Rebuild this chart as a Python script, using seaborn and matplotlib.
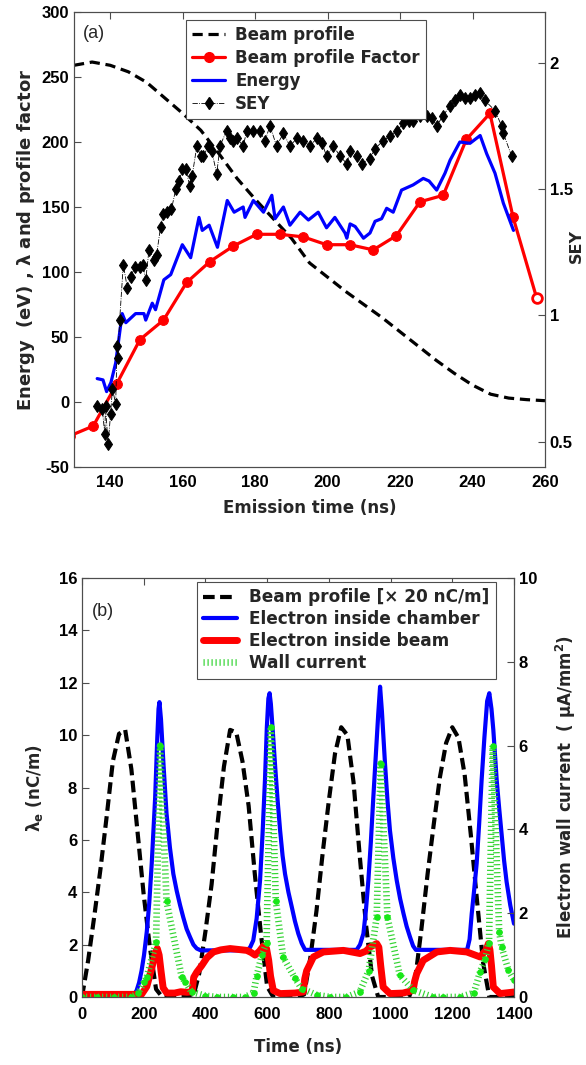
import matplotlib
matplotlib.use('Agg')
import matplotlib.pyplot as plt
import matplotlib.lines as mlines
import seaborn as sns

sns.set_style('white')
plt.rcParams['font.family'] = ['Liberation Sans', 'DejaVu Sans']
plt.rcParams['font.weight'] = 'bold'
plt.rcParams['axes.labelweight'] = 'bold'
plt.rcParams['mathtext.fontset'] = 'dejavusans'
plt.rcParams['mathtext.default'] = 'regular'
plt.rcParams['axes.unicode_minus'] = False

# ---------------- panel (a) data ----------------
beam_a_t = [130, 135, 140, 145, 150, 155, 160, 165, 170, 175, 180, 185, 190, 195,
            200, 205, 210, 215, 220, 225, 230, 235, 240, 245, 250, 255, 260]
beam_a_v = [259, 261.5, 259, 254, 246, 234, 222, 209, 191, 172, 156, 141, 126, 107,
            96, 85, 75, 65, 54, 43, 32, 22, 13, 6, 3, 1.8, 1]

factor_t = [128.9, 135.3, 141.8, 148.2, 154.7, 161.1, 167.5, 174.0, 180.4, 186.8, 193.3,
            199.7, 206.1, 212.6, 219.0, 225.5, 231.9, 238.3, 244.8, 251.2, 257.7]
factor_v = [-26, -18.5, 14, 48, 63, 92, 108, 120, 129, 129, 127,
            121, 121, 117, 128, 154, 159, 202, 222, 142, 80]

energy_t = [136.4, 138.0, 139.0, 140.2, 141.5, 143.3, 144.3, 147.0, 149.3, 149.8,
            151.6, 152.5, 154.8, 156.7, 159.9, 162.2, 164.5, 165.4, 167.3, 169.6,
            172.3, 174.2, 176.7, 177.2, 179.5, 182.3, 184.6, 185.5, 187.8, 189.6,
            192.4, 194.7, 197.4, 199.7, 202.0, 204.8, 205.3, 206.2, 207.6, 209.9,
            211.7, 213.1, 214.9, 216.3, 218.1, 220.4, 223.6, 226.4, 228.0, 230.1,
            232.4, 233.8, 236.5, 239.3, 242.1, 243.9, 246.2, 248.5, 251.3]
energy_v = [18, 17, 8, 15, 30, 68, 61, 68, 68, 63,
            76, 71, 94, 98, 121, 111, 142, 132, 136, 119,
            155, 146, 150, 142, 155, 146, 159, 141, 150, 136,
            146, 140, 146, 134, 142, 130, 126, 137, 135, 126,
            130, 139, 141, 149, 146, 163, 167, 172, 170, 163,
            176, 186, 200, 199, 205, 191, 176, 153, 132]

sey_t = [136.4, 137.8, 138.5, 138.7, 139.4, 140.1, 140.6, 141.5, 141.9, 142.1,
         142.6, 143.6, 144.7, 145.6, 146.8, 148.1, 149.0, 149.8, 150.7, 152.1,
         152.8, 153.9, 154.7, 155.8, 156.9, 158.1, 159.0, 159.9, 160.8, 162.0,
         162.6, 163.9, 165.0, 165.7, 167.1, 168.0, 169.4, 170.3, 172.1, 173.0,
         174.0, 175.0, 176.7, 177.7, 179.5, 181.3, 182.7, 184.1, 185.9, 187.8,
         189.6, 191.5, 193.3, 195.1, 197.0, 198.5, 199.7, 201.6, 203.4, 205.3,
         206.2, 208.0, 209.4, 211.7, 213.1, 215.3, 217.2, 219.1, 220.9, 222.5,
         223.7, 225.5, 227.4, 228.8, 230.1, 231.9, 233.8, 235.2, 236.5, 237.8,
         239.3, 240.7, 242.1, 243.4, 246.2, 248.0, 248.5, 250.8]
sey_v = [0.64, 0.63, 0.53, 0.64, 0.49, 0.61, 0.71, 0.65, 0.88, 0.83,
         0.98, 1.20, 1.11, 1.15, 1.19, 1.19, 1.20, 1.14, 1.26, 1.22,
         1.24, 1.35, 1.40, 1.41, 1.42, 1.50, 1.53, 1.58, 1.58, 1.51,
         1.55, 1.67, 1.63, 1.63, 1.67, 1.65, 1.56, 1.67, 1.73, 1.70,
         1.69, 1.70, 1.67, 1.73, 1.73, 1.73, 1.69, 1.75, 1.67, 1.72,
         1.67, 1.70, 1.69, 1.67, 1.70, 1.68, 1.63, 1.67, 1.63, 1.60,
         1.65, 1.63, 1.60, 1.62, 1.66, 1.69, 1.71, 1.73, 1.76, 1.77,
         1.77, 1.79, 1.79, 1.78, 1.75, 1.79, 1.83, 1.85, 1.87, 1.86,
         1.86, 1.87, 1.88, 1.85, 1.81, 1.75, 1.72, 1.63]

# ---------------- panel (b) data ----------------
beam_b_t = list(range(0, 1401, 20))
beam_b_v = [0.0, 1.4, 3.1, 4.9, 6.9, 9.0, 10.05, 10.2, 8.7, 6.3, 3.9, 1.9, 0.3, 0, 0, 0, 0, 0, 0, 0.9,
            2.5, 4.3, 6.7, 8.8, 10.2, 10.1, 9.0, 7.3, 4.7, 2.4, 0.4, 0, 0, 0, 0, 0, 0.1, 1.5, 3.3, 5.5,
            7.5, 9.3, 10.3, 10.0, 8.2, 5.4, 2.8, 0.8, 0, 0, 0, 0, 0, 0, 0.7, 2.6, 4.7, 6.6, 8.4, 9.7,
            10.3, 9.9, 8.5, 6.2, 3.7, 1.3, 0, 0, 0, 0, 0]

chamber_t = [0, 100, 170, 177, 185, 193, 201, 210, 218, 226, 237, 244, 248, 251, 256, 264, 274, 285,
             296, 307, 318, 328, 339, 350, 361, 372, 385,
             535, 545, 555, 566, 577, 585, 593, 599, 604, 608, 612, 618, 626, 634, 642, 650, 658,
             669, 680, 690, 701, 712, 723,
             890, 901, 912, 920, 928, 936, 944, 952, 960, 966, 972, 982, 990, 998, 1009, 1020,
             1031, 1042, 1052, 1063, 1073, 1082,
             1248, 1256, 1263, 1271, 1279, 1287, 1295, 1304, 1313, 1320, 1327, 1333, 1344, 1352,
             1360, 1368, 1376, 1388, 1400]
chamber_v = [0.1, 0.1, 0.12, 0.25, 0.55, 1.0, 1.6, 2.5, 3.6, 5.1, 7.6, 9.9, 11.0, 11.26, 10.6, 8.9, 7.0, 5.7,
             4.7, 4.05, 3.5, 3.05, 2.6, 2.29, 2.0, 1.85, 1.78,
             1.78, 1.9, 2.16, 3.0, 4.45, 6.2, 8.3, 10.3, 11.4, 11.6, 11.2, 10.2, 8.8, 7.5, 6.36, 5.4, 4.7,
             4.0, 3.43, 2.9, 2.42, 2.05, 1.8,
             1.8, 2.0, 2.42, 3.3, 4.45, 5.9, 7.6, 9.2, 10.8, 11.85, 10.9, 8.9, 7.5, 6.36, 5.3, 4.45,
             3.75, 3.18, 2.7, 2.29, 1.95, 1.8,
             1.8, 2.2, 3.18, 4.1, 5.1, 6.6, 8.27, 9.9, 11.3, 11.6, 11.0, 10.2, 8.27, 7.2,
             6.2, 5.2, 4.4, 3.5, 2.8]

inbeam_t = [0, 100, 193, 210, 226, 238, 244, 250, 256, 263, 275, 300, 320, 340, 357, 362, 372, 388,
            405, 426, 450, 480, 534, 548, 561, 575, 588, 598, 605, 611, 620, 642, 690, 717, 722, 728,
            750, 782, 847, 901, 920, 933, 955, 962, 968, 976, 998, 1040, 1073, 1078, 1085, 1106,
            1150, 1193, 1247, 1290, 1310, 1317, 1322, 1327, 1333, 1355, 1400]
inbeam_v = [0.1, 0.1, 0.1, 0.4, 1.1, 1.7, 1.85, 1.6, 1.0, 0.35, 0.15, 0.15, 0.2, 0.18, 0.2, 0.75, 0.95, 1.2,
            1.5, 1.72, 1.8, 1.85, 1.78, 1.7, 1.6, 1.75, 1.95, 1.85, 1.4, 0.8, 0.25, 0.13, 0.15, 0.19, 0.7, 1.0,
            1.53, 1.72, 1.78, 1.66, 1.75, 1.9, 2.04, 1.9, 1.2, 0.38, 0.13, 0.15, 0.25, 0.6, 0.9, 1.4,
            1.72, 1.78, 1.72, 1.53, 1.8, 2.04, 1.8, 1.2, 0.38, 0.13, 0.19]

wall_t = [0, 50, 105, 160, 183, 201, 210, 240, 253, 274, 323, 334, 355, 400, 436, 490, 528, 556,
          566, 583, 598, 612, 628, 652, 690, 712, 760, 803, 857, 900, 929, 955, 968, 990, 1030,
          1074, 1138, 1170, 1225, 1270, 1290, 1306, 1319, 1331, 1352, 1360, 1382, 1400]
wall_w = [0, 0, 0, 0, 0.1, 0.36, 0.48, 1.31, 6.0, 2.28, 0.48, 0.36, 0.12, 0.03, 0, 0, 0, 0.1,
          0.5, 1.0, 1.3, 6.44, 2.3, 0.95, 0.45, 0.2, 0.05, 0, 0, 0.12, 0.63, 1.9, 5.57, 1.9, 0.52,
          0.16, 0, 0, 0, 0.1, 0.6, 0.9, 1.3, 6.0, 1.56, 1.19, 0.64, 0.4]

W, H = 586, 1065
fig = plt.figure(figsize=(W / 100, H / 100), dpi=100)

spine_col = '0.3'
green = '#35d435'
lab = {'family': 'DejaVu Sans', 'weight': 'bold'}

# ================= panel (a) =================
ax1 = fig.add_axes([74 / W, 1 - 467 / H, (545 - 74) / W, (467 - 12) / H])
ax1r = ax1.twinx()

sns.lineplot(x=beam_a_t, y=beam_a_v, ax=ax1, color='black', lw=2.3,
             linestyle=(0, (3.2, 1.8)), estimator=None, legend=False)
sns.lineplot(x=factor_t, y=factor_v, ax=ax1, color='red', lw=2.3, marker='o', markersize=7,
             markeredgecolor='red', markevery=list(range(len(factor_t) - 1)),
             estimator=None, legend=False)
ax1.plot(factor_t[-1:], factor_v[-1:], 'o', ms=7, mfc='white', mec='red', mew=2)
sns.lineplot(x=energy_t, y=energy_v, ax=ax1, color='blue', lw=2.3, estimator=None, legend=False)
sns.lineplot(x=sey_t, y=sey_v, ax=ax1r, color='black', lw=0.6, linestyle='-.', marker='d',
             markersize=6.5, markeredgecolor='black', estimator=None, legend=False)

ax1.set_xlim(130, 260)
ax1.set_ylim(-50, 300)
ax1.set_xticks(range(140, 261, 20))
ax1.set_yticks(range(-50, 301, 50))
ax1r.set_ylim(0.4, 2.2)
ax1r.set_yticks([0.5, 1, 1.5, 2])
ax1r.set_yticklabels(['0.5', '1', '1.5', '2'])

ax1.set_xlabel('Emission time (ns)', fontsize=12, labelpad=6, **lab)
ax1.set_ylabel(r'Energy  (eV) , $\lambda$ and profile factor', fontsize=13, labelpad=3, **lab)
ax1r.set_ylabel('SEY', fontsize=11.5, **lab)
ax1r.yaxis.set_label_coords(1.05, 0.486)

h_a = [
    mlines.Line2D([], [], color='black', lw=2.3, ls=(0, (3.2, 1.8)), label='Beam profile'),
    mlines.Line2D([], [], color='red', lw=2.3, marker='o', ms=7, label='Beam profile Factor'),
    mlines.Line2D([], [], color='blue', lw=2.3, label='Energy'),
    mlines.Line2D([], [], color='black', lw=0.6, ls='-.', marker='d', ms=6.5, label='SEY'),
]
leg = ax1r.legend(handles=h_a, loc='upper left', bbox_to_anchor=(186 / W, 1 - 20 / H),
                  bbox_transform=fig.transFigure, borderaxespad=0, fancybox=False,
                  framealpha=1, edgecolor=spine_col, prop=dict(lab, size=12),
                  handlelength=2.0, handletextpad=0.6, labelspacing=0.3, borderpad=0.35)
leg.get_frame().set_linewidth(0.8)
fig.text(94 / W, 1 - 33 / H, '(a)', fontsize=13, fontweight='normal', ha='center', va='center')

# ================= panel (b) =================
ax2 = fig.add_axes([82 / W, 1 - 997 / H, (514 - 82) / W, (997 - 578) / H])
ax2r = ax2.twinx()

sns.lineplot(x=beam_b_t, y=beam_b_v, ax=ax2, color='black', lw=3,
             linestyle=(0, (2.8, 1.3)), estimator=None, legend=False)
sns.lineplot(x=chamber_t, y=chamber_v, ax=ax2, color='blue', lw=3, estimator=None, legend=False)
sns.lineplot(x=inbeam_t, y=inbeam_v, ax=ax2, color='red', lw=5, estimator=None, legend=False)
sns.lineplot(x=wall_t, y=wall_w, ax=ax2r, color=green, lw=4.8, linestyle=(0, (0.18, 0.42)),
             marker='o', markersize=4, markerfacecolor='#18e818', markeredgecolor='#18e818',
             estimator=None, legend=False)

ax2.set_xlim(0, 1400)
ax2.set_ylim(0, 16)
ax2.set_xticks(range(0, 1401, 200))
ax2.set_yticks(range(0, 17, 2))
ax2r.set_ylim(0, 10)
ax2r.set_yticks(range(0, 11, 2))

ax2.set_xlabel('Time (ns)', fontsize=12, labelpad=12, **lab)
ax2.set_ylabel(r'$\lambda_{\mathbf{e}}$ (nC/m)', fontsize=12, labelpad=10, **lab)
ax2r.set_ylabel('Electron wall current  ( μA/mm$^{\\mathbf{2}}$)', fontsize=12, labelpad=12, **lab)

h_b = [
    mlines.Line2D([], [], color='black', lw=3, ls=(0, (2.8, 1.3)), label='Beam profile [× 20 nC/m]'),
    mlines.Line2D([], [], color='blue', lw=3, label='Electron inside chamber'),
    mlines.Line2D([], [], color='red', lw=5, label='Electron inside beam'),
    mlines.Line2D([], [], color=green, lw=4.8, ls=(0, (0.18, 0.42)), label='Wall current'),
]
leg2 = ax2r.legend(handles=h_b, loc='upper left', bbox_to_anchor=(197 / W, 1 - 582 / H),
                   bbox_transform=fig.transFigure, borderaxespad=0, fancybox=False,
                   framealpha=1, edgecolor=spine_col, prop=dict(lab, size=12.2),
                   handlelength=2.0, handletextpad=0.7, labelspacing=0.23, borderpad=0.38)
leg2.get_frame().set_linewidth(0.8)
fig.text(103 / W, 1 - 611 / H, '(b)', fontsize=13, fontweight='normal', ha='center', va='center')

# ticks and frames
ax1.tick_params(axis='x', pad=6)
ax2.tick_params(axis='x', pad=7)
for ax in [ax1, ax2]:
    ax.tick_params(axis='both', direction='in', length=5, width=0.8, labelsize=12,
                   top=True, right=False, colors='black')
for ax in [ax1r, ax2r]:
    ax.tick_params(axis='y', direction='in', length=5, width=0.8, labelsize=12,
                   right=True, left=False, colors='black')
for ax in [ax1, ax1r, ax2, ax2r]:
    for s in ax.spines.values():
        s.set_color(spine_col)
        s.set_linewidth(0.8)
    ax.tick_params(color=spine_col)

fig.savefig('out.png', dpi=100)
